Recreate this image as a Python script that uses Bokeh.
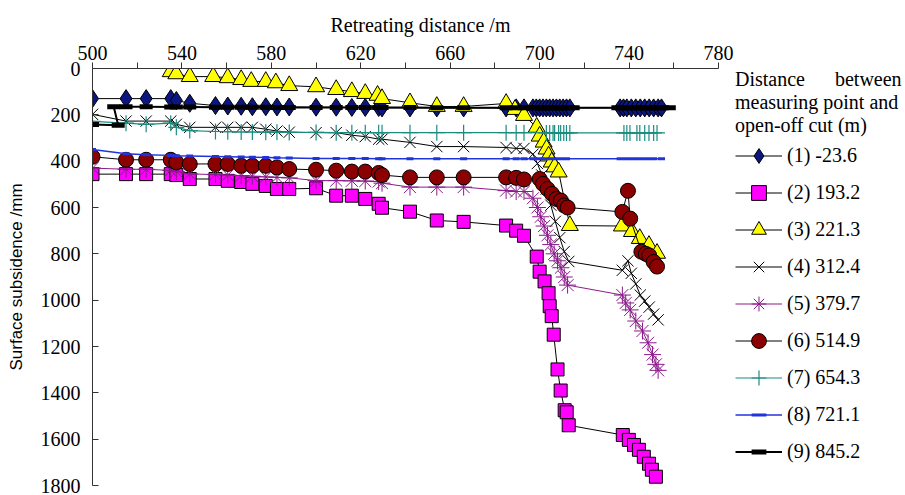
from bokeh.plotting import figure
from bokeh.models import Range1d, FixedTicker, Legend, LegendItem
from bokeh.layouts import row
from bokeh.embed import file_html
from bokeh.resources import INLINE

# ---- data ----
x_ticks = [500, 540, 580, 620, 660, 700, 740, 780]
x_minor = [520, 560, 600, 640, 680, 720, 760]
y_ticks = [0, 200, 400, 600, 800, 1000, 1200, 1400, 1600, 1800]

labels = ["(1) -23.6", "(2) 193.2", "(3) 221.3", "(4) 312.4", "(5) 379.7",
          "(6) 514.9", "(7) 654.3", "(8) 721.1", "(9) 845.2"]

s1_x = [500, 515, 524, 535, 537.5, 543.5, 555, 560.5, 566.5, 571.5, 577.5, 582.5, 588, 600, 609, 616, 622, 628,
        629.5, 642, 654, 666, 685, 689.5, 693, 697, 698.5, 700, 701.5, 703, 704.5, 706, 707.5, 709, 710.5, 712,
        713.5, 736, 737.5, 739, 741, 743, 745, 747, 749, 751, 753, 754.5]
s1_y = [130, 130, 130, 130, 138, 150, 160, 162, 163, 165, 165, 166, 166, 167, 167, 168, 168, 168,
        170, 170, 170, 170, 170, 170, 170, 170, 170, 170, 170, 170, 170, 170, 170, 170, 170, 170,
        170, 170, 170, 170, 170, 170, 170, 170, 170, 170, 170, 170]

s2_x = [500, 515, 524, 535, 537.5, 543.5, 555, 560.5, 566.5, 571.5, 577.5, 582.5, 588, 600, 609, 616, 622, 628,
        629.5, 642, 654, 666, 685, 689.5, 693, 698.7, 700, 702.2, 704, 704.5, 705.4, 706.3, 708, 709.4, 711.2,
        712.1, 713, 737.2, 739.9, 742.2, 744.4, 746.6, 748.9, 750.2, 752]
s2_y = [456, 456, 456, 456, 460, 477, 477, 485, 490, 498, 507, 520, 520, 517, 549, 549, 563, 584,
        601, 618, 656, 662, 678, 700, 722, 812, 877, 919, 970, 1026, 1069, 1149, 1299, 1390, 1475,
        1484, 1540, 1582, 1603, 1625, 1646, 1676, 1706, 1732, 1762]

s3_x = [535, 537.5, 543.5, 554, 560.5, 566.5, 571, 577.5, 582, 588, 600, 609, 616, 622, 627.5, 629.5, 642, 654,
        666, 685, 689, 693, 698.7, 700, 701.8, 703.1, 704, 705.4, 706.7, 708.5, 713.5, 736.8, 741.3, 744.8,
        748.9, 752.5]
s3_y = [14, 23, 35, 35, 40, 48, 56, 56, 62, 74, 79, 91, 100, 108, 116, 130, 148, 164,
        164, 151, 177, 203, 254, 292, 318, 348, 378, 404, 425, 447, 678, 680, 704, 734,
        764, 798]

s4_x = [500, 515, 524, 535, 537.5, 543.5, 555, 560.5, 566.5, 571.5, 577.5, 582.5, 588, 600, 609, 616, 622, 628,
        629.5, 642, 654, 666, 685, 689.5, 693, 697, 699, 701, 703, 705, 707, 709, 711, 713, 737, 739.5, 741,
        743, 745, 747, 749, 751, 753]
s4_y = [198, 227, 227, 227, 241, 254, 254, 254, 254, 254, 262, 270, 275, 277, 277, 288, 294, 305,
        305, 319, 337, 337, 341, 345, 345, 370, 410, 460, 520, 590, 660, 730, 790, 833, 871, 830, 884,
        930, 978, 1004, 1030, 1060, 1085]

s5_x = [500, 515, 524, 535, 537.5, 543.5, 555, 560.5, 566.5, 571.5, 577.5, 582.5, 588, 600, 609, 616, 622, 628,
        629.5, 642, 654, 666, 685, 689.5, 693, 697, 699, 700.5, 702, 703.5, 705, 706.5, 708, 709.5, 711, 712.5,
        737, 738.5, 740.5, 743, 746, 748.5, 750.5, 752, 753]
s5_y = [430, 435, 435, 440, 445, 455, 458, 460, 462, 465, 468, 470, 472, 484, 484, 485, 486, 488,
        495, 512, 512, 512, 527, 531, 531, 560, 600, 640, 680, 720, 760, 800, 830, 860, 900, 935,
        978, 1012, 1042, 1090, 1133, 1184, 1235, 1277, 1303]

s6_x = [500, 515, 524, 535, 537.5, 543.5, 555, 560.5, 566.5, 571.5, 577.5, 582.5, 588, 600, 609, 616, 622, 628,
        629.5, 642, 654, 666, 685, 689.5, 693, 700, 701.5, 703.5, 705.5, 707.5, 709.5, 711, 712.5, 737, 739.5,
        740.5, 745.5, 747.5, 749, 751, 752.5]
s6_y = [381, 394, 394, 394, 405, 412, 412, 412, 420, 420, 420, 427, 434, 437, 441, 445, 445, 451,
        460, 470, 470, 470, 470, 472, 479, 477, 498, 520, 541, 563, 570, 591, 600, 619, 528,
        648, 791, 800, 807, 835, 855]

s7_x = [500, 515, 524, 535, 537.5, 543.5, 555, 560.5, 566.5, 571.5, 577.5, 582.5, 588, 600, 609, 616, 622, 628,
        629.5, 642, 654, 666, 685, 689.5, 693, 703, 704.5, 706, 706.7, 708.5, 709.4, 710.8, 712, 713.5, 737.7,
        739, 740.4, 743.5, 744.8, 747, 748.9, 751, 752.5]
s7_y = [228, 236, 241, 236, 254, 268, 272, 273, 274, 274, 275, 275, 276, 276, 277, 277, 277, 277,
        277, 277, 277, 277, 277, 277, 277, 278, 278, 278, 278, 278, 278, 278, 278, 278, 278,
        278, 278, 278, 278, 278, 278, 278, 278]

s8_x = [500, 515, 524, 535, 537.5, 543.5, 555, 560.5, 566.5, 571.5, 577.5, 582.5, 588, 600, 609, 616, 622, 628,
        629.5, 642, 654, 666, 685, 689.5, 693, 697, 700, 703, 706, 709, 712, 736, 739, 742, 745, 748, 751, 754.5]
s8_y = [350, 368, 372, 375, 377, 378, 380, 381, 382, 383, 384, 385, 386, 388, 388, 389, 389, 390,
        390, 390, 390, 390, 390, 390, 390, 390, 390, 390, 390, 390, 390, 390, 390, 390, 390, 390, 390, 390]

s9_x = [500, 511.5, 509.5, 515, 524, 535, 537.5, 543.5, 555, 560.5, 566.5, 571.5, 577.5, 582.5, 588, 600, 609,
        616, 622, 628, 629.5, 642, 654, 666, 685, 689.5, 693, 697, 699, 700.5, 702, 703.5, 705, 706.5, 708,
        709.5, 711, 713, 715, 735, 737.5, 739, 740.5, 743.5, 745, 747, 749, 751, 752.5, 755, 758]
s9_y = [242, 245, 165, 165, 165, 166, 166, 166, 167, 167, 167, 167, 167, 168, 168, 168, 168,
        168, 168, 168, 168, 168, 169, 169, 169, 169, 169, 169, 169, 169, 169, 169, 169, 169, 169,
        169, 169, 169, 169, 169, 169, 169, 169, 169, 169, 169, 169, 169, 169, 169, 169]

SERIF = "Liberation Serif"

p = figure(width=735, height=495, output_backend="svg", toolbar_location=None,
           x_range=Range1d(500, 780), y_range=Range1d(1800, 0),
           x_axis_location="above",
           min_border_left=92, min_border_right=17, min_border_top=68, min_border_bottom=10)
p.outline_line_color = None
p.grid.visible = False
p.background_fill_color = "white"
p.border_fill_color = "white"

# x-axis title drawn as the plot title so that it can sit slightly right of centre, as in the reference
p.title.text = "Retreating distance /m"
p.title.align = "left"
p.title.offset = 238
p.title.text_font = SERIF
p.title.text_font_size = "20px"
p.title.text_font_style = "normal"
p.title.text_color = "black"
p.title.standoff = 14

xa = p.xaxis[0]
xa.ticker = FixedTicker(ticks=x_ticks, minor_ticks=x_minor)
xa.major_tick_out = 6
xa.major_tick_in = 0
xa.minor_tick_out = 6
xa.minor_tick_in = 0
xa.axis_line_color = "#333333"
xa.major_tick_line_color = "#333333"
xa.minor_tick_line_color = "#333333"
xa.major_label_text_font = SERIF
xa.major_label_text_font_size = "20px"
xa.major_label_text_color = "black"
xa.major_label_standoff = 3

ya = p.yaxis[0]
ya.ticker = FixedTicker(ticks=y_ticks, minor_ticks=[])
ya.major_tick_in = 6
ya.major_tick_out = 0
ya.minor_tick_in = 0
ya.minor_tick_out = 0
ya.axis_line_color = "#333333"
ya.major_tick_line_color = "#333333"
ya.major_label_text_font = SERIF
ya.major_label_text_font_size = "20px"
ya.major_label_text_color = "black"
ya.major_label_standoff = 12
ya.axis_label = "Surface subsidence /mm"
ya.axis_label_text_font = "Liberation Sans"
ya.axis_label_text_font_size = "17px"
ya.axis_label_text_font_style = "normal"
ya.axis_label_text_color = "black"
ya.axis_label_standoff = 12

series = [
    (s1_x, s1_y, "black", 1, dict(marker="diamond", size=18, fill_color="#0b1680", line_color="black", line_width=1)),
    (s2_x, s2_y, "black", 1, dict(marker="square", size=13, fill_color="#ff00ff", line_color="black", line_width=1)),
    (s3_x, s3_y, "black", 1, dict(marker="triangle", size=17, fill_color="#ffff00", line_color="black", line_width=1)),
    (s4_x, s4_y, "black", 1, dict(marker="x", size=16, line_color="black", line_width=1)),
    (s5_x, s5_y, "#8b1a8b", 1, dict(marker="asterisk", size=17, line_color="#8b1a8b", line_width=1)),
    (s6_x, s6_y, "black", 1, dict(marker="circle", size=15, fill_color="#8b0000", line_color="black", line_width=1)),
    (s7_x, s7_y, "#1a8c80", 1.2, dict(marker="cross", size=16, line_color="#1a8c80", line_width=1.2)),
    (s8_x, s8_y, "#2233dd", 1.5, dict(marker="dash", size=7, line_color="#2233dd", line_width=3)),
    (s9_x, s9_y, "black", 2, dict(marker="dash", size=13, line_color="black", line_width=5)),
]

for xs, ys, lc, lw, mk in series:
    p.line(xs, ys, line_color=lc, line_width=lw)
    p.scatter(xs, ys, **mk)

# ---- legend panel: a second figure holding only the legend ----
q = figure(width=170, height=495, output_backend="svg", toolbar_location=None,
           x_range=Range1d(0, 1), y_range=Range1d(0, 1),
           x_axis_location=None, y_axis_location=None, min_border=0)
q.outline_line_color = None
q.grid.visible = False
q.background_fill_color = "white"
q.border_fill_color = "white"

items = []
for (xs, ys, lc, lw, mk), lab in zip(series, labels):
    # legend swatches use the same styles; their data sits outside the visible range
    lr = q.line([5, 6], [5, 6], line_color=lc, line_width=lw)
    sr = q.scatter([5], [5], **mk)
    items.append(LegendItem(label=lab, renderers=[lr, sr]))

NB = "\u00a0"
legend = Legend(items=items, location="top_left")
legend.title = "Distance" + NB * 6 + "between\nmeasuring point and\nopen-off cut (m)"
legend.title_text_font = SERIF
legend.title_text_font_size = "20px"
legend.title_text_font_style = "normal"
legend.title_text_color = "black"
legend.title_text_line_height = 1.1
legend.title_standoff = 0
legend.label_text_font = SERIF
legend.label_text_font_size = "20px"
legend.label_text_color = "black"
legend.label_standoff = 5
legend.glyph_width = 47
legend.glyph_height = 37
legend.label_height = 37
legend.spacing = 0
legend.padding = 2
legend.margin = 0
legend.border_line_color = None
legend.background_fill_alpha = 0
q.add_layout(legend)

layout = row(p, q)
open("out.html", "w").write(file_html(layout, INLINE))
